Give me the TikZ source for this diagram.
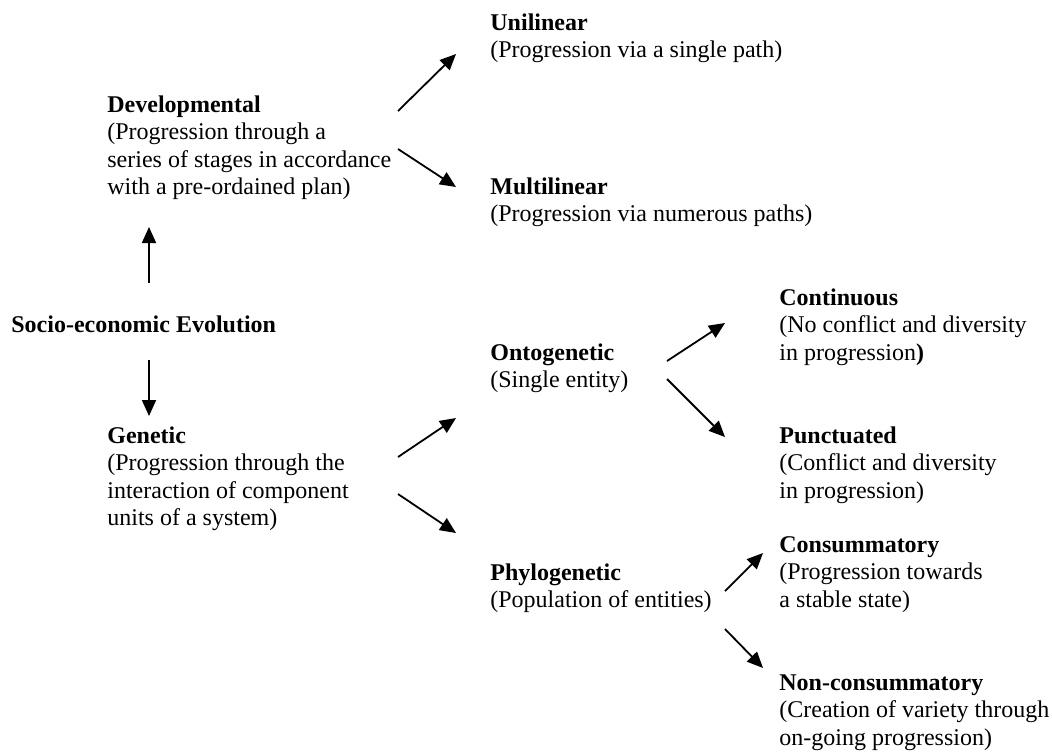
\documentclass[tikz,border=0pt]{standalone}
\usepackage{fontspec}
\setmainfont{Liberation Serif}
\usetikzlibrary{arrows.meta}
\newcommand{\blockt}[1]{\begin{tabular}[t]{@{}l@{}}#1\end{tabular}}
\begin{document}
\begin{tikzpicture}[x=0.5pt,y=-0.5pt,
  txt/.style={anchor=base west, inner sep=0pt, font=\fontsize{12}{13.8}\selectfont},
  arr/.style={-{Triangle[length=8pt,width=7pt]}, line width=0.9pt}]
\useasboundingbox (0,0) rectangle (1052,751);
% text nodes
\node[txt] (soc) at (11,332) {\textbf{Socio-economic Evolution}};
\node[txt] (dev) at (107,112) {\blockt{\textbf{Developmental}\\(Progression through a\\series of stages in accordance\\with a pre-ordained plan)}};
\node[txt] (gen) at (107,443) {\blockt{\textbf{Genetic}\\(Progression through the\\interaction of component\\units of a system)}};
\node[txt] (uni) at (490,30) {\blockt{\textbf{Unilinear}\\(Progression via a single path)}};
\node[txt] (mul) at (490,194) {\blockt{\textbf{Multilinear}\\(Progression via numerous paths)}};
\node[txt] (ont) at (490,360) {\blockt{\textbf{Ontogenetic}\\(Single entity)}};
\node[txt] (phy) at (490,580) {\blockt{\textbf{Phylogenetic}\\(Population of entities)}};
\node[txt] (con) at (779,305) {\blockt{\textbf{Continuous}\\(No conflict and diversity\\in progression\textbf{)}}};
\node[txt] (pun) at (779,443) {\blockt{\textbf{Punctuated}\\(Conflict and diversity\\in progression)}};
\node[txt] (cons) at (779,552) {\blockt{\textbf{Consummatory}\\(Progression towards\\a stable state)}};
\node[txt] (ncons) at (779,690) {\blockt{\textbf{Non-consummatory}\\(Creation of variety through\\on-going progression)}};
% connector ends
\coordinate (socU) at (149,283);
\coordinate (devB) at (149,227);
\coordinate (socD) at (149,360);
\coordinate (genT) at (149,416);
\coordinate (devU) at (398,111);
\coordinate (uniL) at (456,54);
\coordinate (devD) at (398,149);
\coordinate (mulL) at (456,187);
\coordinate (genU) at (398,457);
\coordinate (ontL) at (456,418);
\coordinate (genD) at (398,494);
\coordinate (phyL) at (456,533);
\coordinate (ontU) at (667,361);
\coordinate (conL) at (725,323);
\coordinate (ontD) at (667,379);
\coordinate (punL) at (725,437);
\coordinate (phyU) at (725,591);
\coordinate (consL) at (763,553);
\coordinate (phyD) at (725,629);
\coordinate (nconsL) at (763,668);
% connectors
\draw[arr] (socU) -- (devB);
\draw[arr] (socD) -- (genT);
\draw[arr] (devU) -- (uniL);
\draw[arr] (devD) -- (mulL);
\draw[arr] (genU) -- (ontL);
\draw[arr] (genD) -- (phyL);
\draw[arr] (ontU) -- (conL);
\draw[arr] (ontD) -- (punL);
\draw[arr] (phyU) -- (consL);
\draw[arr] (phyD) -- (nconsL);
\end{tikzpicture}
\end{document}
